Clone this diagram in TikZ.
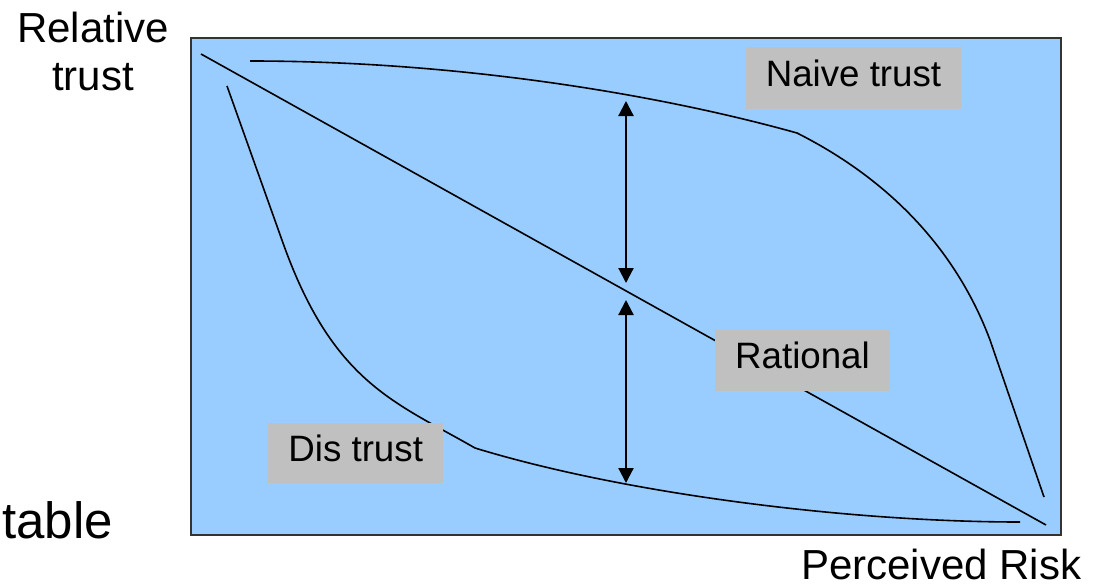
\documentclass[tikz,border=0pt]{standalone}
\usepackage{fontspec}
\setmainfont{Liberation Sans}
\usetikzlibrary{arrows.meta}

\definecolor{panelblue}{HTML}{99CCFF}
\definecolor{labelgrey}{HTML}{C0C0C0}

\tikzset{
  curve/.style={line width=1.6pt},
  curvelabel/.style={fill=labelgrey, inner sep=0pt, font=\fontsize{36.7}{44}\selectfont,
    text height=26.5pt, text depth=10pt},
  axislabel/.style={inner sep=0pt, font=\fontsize{42}{48}\selectfont},
  spread/.style={line width=2.2pt, {Triangle[width=15pt,length=15pt]}-{Triangle[width=15pt,length=15pt]}}
}

\begin{document}
\begin{tikzpicture}[x=1pt, y=-1pt]
\useasboundingbox (0,0) rectangle (1105,586);
\def\naivecurve{(250,61) .. controls (450,61) and (650,92) .. (797,133) .. controls (900,185) and (960,260) .. (990,340) -- (1044,497)}
\def\discurve{(227,86) -- (283,243) .. controls (333,383) and (395,402) .. (475,448) .. controls (625,494) and (850,522) .. (1020,522)}

% panel
\draw[fill=panelblue, draw=black!80, line width=1.8pt] (191,38) rectangle (1061,535);

% the three curves
\draw[curve] \naivecurve;
\draw[curve] (201,54) -- (1046,525);
\draw[curve] \discurve;

% gaps to the rational line
\coordinate (naivegap) at (626,101);
\coordinate (ratupper) at (626,283);
\coordinate (ratlower) at (626,300);
\coordinate (disgap) at (626,483);
\draw[spread] (naivegap) -- (ratupper);
\draw[spread] (ratlower) -- (disgap);

\node[curvelabel, minimum width=215pt, minimum height=62pt] (naive) at (853.5,78) {Naive trust};
\node[curvelabel, minimum width=175pt, minimum height=61pt] (rational) at (802.5,360.5) {Rational};
\node[curvelabel, minimum width=175pt, minimum height=60pt] (distrust) at (355.7,453.3) {Dis trust};

\node[axislabel, align=center, anchor=north] (ytitle) at (93,12) {Relative\\trust};
\node[axislabel, text depth=0pt, anchor=base west] (xtitle) at (801,579) {Perceived Risk};
\node[inner sep=0pt, font=\fontsize{51}{60}\selectfont, anchor=base west] (cut) at (2,538) {table};
\end{tikzpicture}
\end{document}
